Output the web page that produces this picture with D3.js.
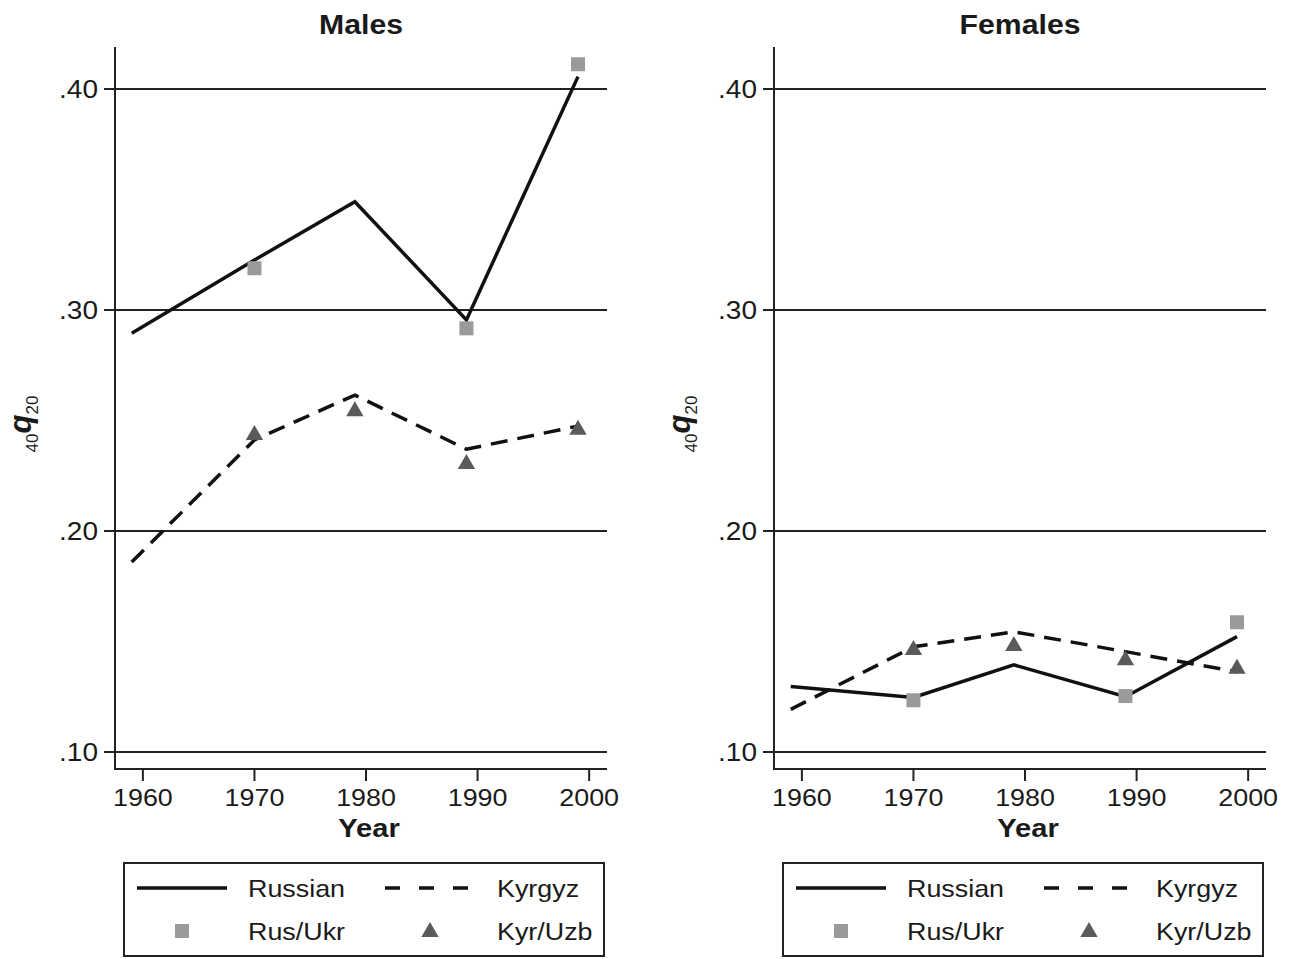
<!DOCTYPE html>
<html>
<head>
<meta charset="utf-8">
<script src="https://cdn.jsdelivr.net/npm/d3@7"></script>
<style>
  body { margin: 0; background: #fff; }
  text { font-family: "Liberation Sans", Arial, sans-serif; fill: #1a1a1a; }
</style>
</head>
<body>
<svg id="chart" width="1298" height="959"></svg>
<script>
// years of the census lines
const lineYears = [1959, 1970, 1979, 1989, 1999];
// years of the marker points
const pointYears = [1970, 1979, 1989, 1999];

const russianM = [0.2895, 0.3226, 0.349, 0.2955, 0.4056];
const kyrgyzM = [0.186, 0.2412, 0.2615, 0.237, 0.2475];
const rusUkrM = [0.3189, null, 0.2917, 0.4112];
const kyrUzbM = [0.2439, 0.2546, 0.2308, 0.2463];

const russianF = [0.1296, 0.1247, 0.1394, 0.125, 0.1522];
const kyrgyzF = [0.1193, 0.1476, 0.1544, 0.1454, 0.1363];
const rusUkrF = [0.1234, null, 0.1253, 0.1587];
const kyrUzbF = [0.1466, 0.1484, 0.142, 0.1381];

const yTicks = [0.10, 0.20, 0.30, 0.40];
const xTicks = [1960, 1970, 1980, 1990, 2000];

const panels = [
    { title: "Males", dx: 0, russian: russianM, kyrgyz: kyrgyzM, rusUkr: rusUkrM, kyrUzb: kyrUzbM },
    { title: "Females", dx: 659, russian: russianF, kyrgyz: kyrgyzF, rusUkr: rusUkrF, kyrUzb: kyrUzbF }
];

const svg = d3.select("#chart");
const dash = "17,10";
const sqColor = "#9a9a9a", triColor = "#5a5a5a";
const sx = 1.12; // the original type is a bit wider than Liberation Sans

var x = d3.scaleLinear().domain([1957.5, 2001.6]).range([115, 607]);
var y = d3.scaleLinear().domain([0.0923, 0.419]).range([769, 47]);

const line = d3.line()
    .x((d, i) => x(lineYears[i]))
    .y(d => y(d));

const square = d3.symbol().type(d3.symbolSquare).size(196);
const triangle = d3.symbol().type(d3.symbolTriangle).size(130);

const at = (px, py) => `translate(${px},${py}) scale(${sx},1)`;

panels.forEach(p => {
    const g = svg.append("g").attr("transform", `translate(${p.dx},0)`);

    // gridlines with left ticks
    g.selectAll("line.grid")
        .data(yTicks)
        .enter().append("line")
        .attr("x1", 104).attr("x2", 607)
        .attr("y1", d => y(d)).attr("y2", d => y(d))
        .attr("stroke", "#222").attr("stroke-width", 2);

    g.selectAll("text.ylab")
        .data(yTicks)
        .enter().append("text")
        .attr("transform", d => at(98, y(d)))
        .attr("dy", "0.36em")
        .attr("text-anchor", "end")
        .style("font-size", "25px")
        .text(d => d3.format(".2f")(d).replace(/^0/, ""));

    // axes
    g.append("line").attr("x1", 115).attr("x2", 115).attr("y1", 47).attr("y2", 770)
        .attr("stroke", "#222").attr("stroke-width", 2);
    g.append("line").attr("x1", 114).attr("x2", 607).attr("y1", 769).attr("y2", 769)
        .attr("stroke", "#222").attr("stroke-width", 2);

    g.selectAll("line.xt")
        .data(xTicks)
        .enter().append("line")
        .attr("x1", d => x(d)).attr("x2", d => x(d))
        .attr("y1", 769).attr("y2", 781)
        .attr("stroke", "#222").attr("stroke-width", 2);

    g.selectAll("text.xlab")
        .data(xTicks)
        .enter().append("text")
        .attr("transform", d => at(x(d), 806))
        .attr("text-anchor", "middle")
        .style("font-size", "24px")
        .text(d => d);

    g.append("text")
        .attr("transform", at(369, 837))
        .attr("text-anchor", "middle")
        .style("font-size", "26px").style("font-weight", "bold")
        .text("Year");

    g.append("text")
        .attr("transform", at(361, 34))
        .attr("text-anchor", "middle")
        .style("font-size", "27px").style("font-weight", "bold")
        .text(p.title);

    // y axis title 40q20
    const yt = g.append("text")
        .attr("transform", "translate(31,424) rotate(-90)")
        .attr("text-anchor", "middle");
    yt.append("tspan").attr("dy", 7).style("font-size", "17px").text("40");
    yt.append("tspan").attr("dy", -7).style("font-size", "31px")
        .style("font-weight", "bold").style("font-style", "italic").text("q");
    yt.append("tspan").attr("dy", 7).style("font-size", "17px").text("20");

    // lines
    g.append("path").datum(p.russian)
        .attr("d", line).attr("fill", "none")
        .attr("stroke", "#111").attr("stroke-width", 3.5);
    g.append("path").datum(p.kyrgyz)
        .attr("d", line).attr("fill", "none")
        .attr("stroke", "#111").attr("stroke-width", 3.5)
        .attr("stroke-dasharray", dash);

    // markers
    g.selectAll("path.sq")
        .data(p.rusUkr.map((v, i) => [pointYears[i], v]).filter(d => d[1] != null))
        .enter().append("path")
        .attr("d", square)
        .attr("transform", d => `translate(${x(d[0])},${y(d[1])})`)
        .attr("fill", sqColor);
    g.selectAll("path.tri")
        .data(p.kyrUzb.map((v, i) => [pointYears[i], v]))
        .enter().append("path")
        .attr("d", triangle)
        .attr("transform", d => `translate(${x(d[0])},${y(d[1]) + 1})`)
        .attr("fill", triColor);

    // legend
    const lg = g.append("g");
    lg.append("rect").attr("x", 124).attr("y", 863).attr("width", 480).attr("height", 93)
        .attr("fill", "none").attr("stroke", "#222").attr("stroke-width", 2);
    lg.append("line").attr("x1", 137).attr("x2", 227).attr("y1", 888).attr("y2", 888)
        .attr("stroke", "#111").attr("stroke-width", 3.5);
    lg.append("line").attr("x1", 385).attr("x2", 468).attr("y1", 888).attr("y2", 888)
        .attr("stroke", "#111").attr("stroke-width", 3.5).attr("stroke-dasharray", "15,19");
    lg.append("path").attr("d", square).attr("transform", "translate(182,931)").attr("fill", sqColor);
    lg.append("path").attr("d", triangle).attr("transform", "translate(430,932)").attr("fill", triColor);
    const items = [["Russian", 248, 897], ["Kyrgyz", 497, 897], ["Rus/Ukr", 248, 940], ["Kyr/Uzb", 497, 940]];
    lg.selectAll("text")
        .data(items)
        .enter().append("text")
        .attr("transform", d => at(d[1], d[2]))
        .style("font-size", "24px")
        .text(d => d[0]);
});
</script>
</body>
</html>
